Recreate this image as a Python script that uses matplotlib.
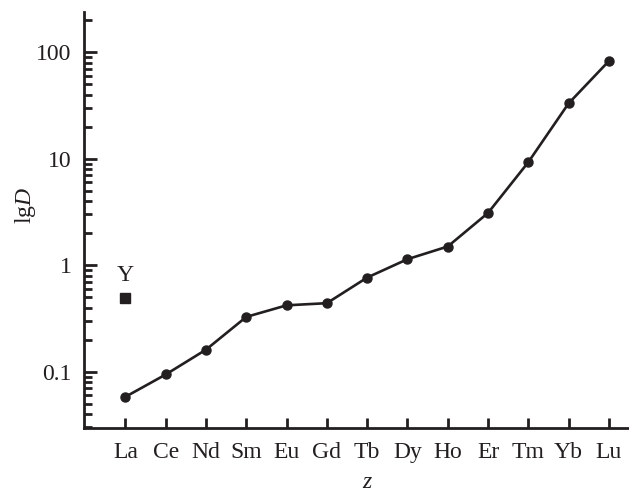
import matplotlib
matplotlib.use("Agg")
import matplotlib.pyplot as plt
from matplotlib.ticker import LogLocator, FixedLocator, NullFormatter, FixedFormatter

plt.rcParams['font.family'] = ['Liberation Serif', 'DejaVu Serif']
plt.rcParams['mathtext.fontset'] = 'custom'
plt.rcParams['mathtext.rm'] = 'Liberation Serif'
plt.rcParams['mathtext.it'] = 'Liberation Serif:italic'

elements = ["La", "Ce", "Nd", "Sm", "Eu", "Gd", "Tb", "Dy", "Ho", "Er", "Tm", "Yb", "Lu"]
D_values = [0.058, 0.094, 0.161, 0.327, 0.42, 0.44, 0.766, 1.14, 1.50, 3.1, 9.3, 33.2, 83.0]
y_label = "Y"
y_value = 0.49
y_position = 0  # drawn at the La column

FS = 17
INK = "#231f20"

fig = plt.figure(figsize=(6.29, 4.92), dpi=100)
ax = fig.add_axes([0.1335, 0.130, 0.8665, 0.8456])

x = list(range(len(elements)))
ax.plot(x, D_values, color=INK, lw=1.9, marker="o", ms=6.5, zorder=3)
ax.plot([y_position], [y_value], marker="s", color=INK, ms=6.5, ls="none")
ax.text(y_position, y_value * 1.3, y_label, ha="center", va="bottom", fontsize=FS, color=INK)

ax.set_yscale("log")
ax.set_ylim(0.0295, 240)
ax.set_xlim(-1.03, 12.5)

ax.set_xticks(x)
ax.set_xticklabels(elements)
ax.yaxis.set_major_locator(FixedLocator([0.1, 1, 10, 100]))
ax.yaxis.set_major_formatter(FixedFormatter(["0.1", "1", "10", "100"]))
ax.yaxis.set_minor_locator(LogLocator(base=10, subs=range(2, 10), numticks=20))
ax.yaxis.set_minor_formatter(NullFormatter())

for side in ("top", "right"):
    ax.spines[side].set_visible(False)
for side in ("left", "bottom"):
    ax.spines[side].set_linewidth(2.0)
    ax.spines[side].set_color(INK)

ax.tick_params(axis="both", which="major", direction="in", width=2.0, color=INK,
               labelsize=FS, labelcolor=INK)
ax.tick_params(axis="y", which="major", length=9, pad=9)
ax.tick_params(axis="y", which="minor", direction="in", length=5.5, width=2.0, color=INK)
ax.tick_params(axis="x", which="major", length=7, pad=10)

ax.set_xlabel("$z$", fontsize=FS, color=INK, va="center")
ax.xaxis.set_label_coords(0.521, -0.132)
ax.set_ylabel("lg$D$", fontsize=FS, color=INK, va="center")
ax.yaxis.set_label_coords(-0.107, 0.534)

fig.savefig("out.png", dpi=100)
